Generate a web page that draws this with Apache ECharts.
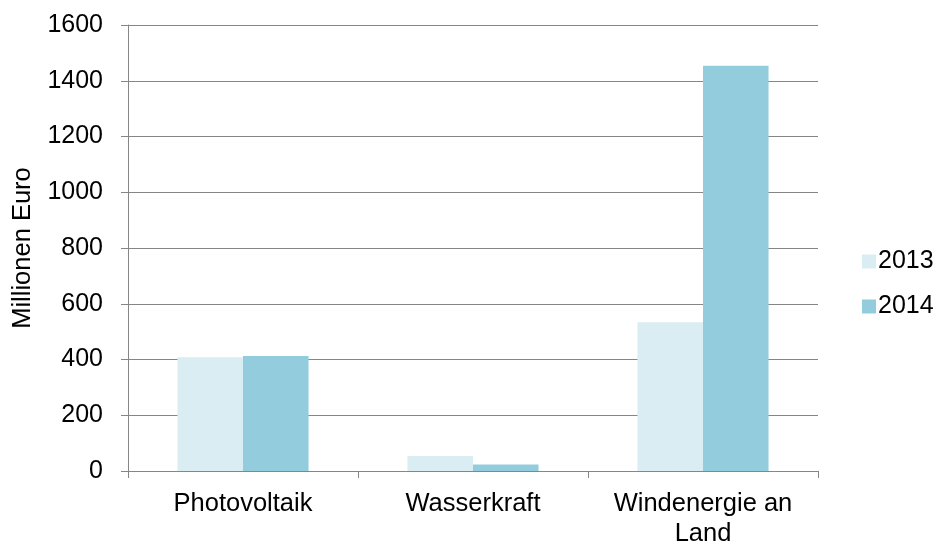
<!DOCTYPE html>
<html><head><meta charset="utf-8">
<script src="https://cdn.jsdelivr.net/npm/echarts@6/dist/echarts.min.js"></script>
<style>html,body{margin:0;padding:0;background:#fff}#c{width:942px;height:541px}</style>
</head><body><div id="c"></div>
<script>
const categories = ['Photovoltaik', 'Wasserkraft', 'Windenergie an\nLand'];
const values2013 = [408, 54, 534];
const values2014 = [413, 23, 1454];
const seriesNames = ['2013', '2014'];
const yTicks = [0, 200, 400, 600, 800, 1000, 1200, 1400, 1600];

const font = 'Liberation Sans, Arial, sans-serif';
const chart = echarts.init(document.getElementById('c'));
chart.setOption({
  animation: false,
  grid: {left: 128, right: 124, top: 25, bottom: 70, containLabel: false, outerBoundsMode: 'none'},
  legend: {
    orient: 'vertical', left: 857, top: 244, itemWidth: 14, itemHeight: 14, itemGap: 20,
    icon: 'rect',
    textStyle: {fontFamily: font, fontSize: 25, color: '#000', padding: [0,0,0,-3]},
    data: seriesNames
  },
  xAxis: {
    type: 'category', data: categories,
    axisLine: {show: true, lineStyle: {color: '#868686', width: 1}},
    axisTick: {show: true, length: 7, lineStyle: {color: '#868686'}},
    axisLabel: {fontFamily: font, fontSize: 25.5, color: '#000', margin: 18, lineHeight: 30, interval: 0, hideOverlap: false}
  },
  yAxis: {
    type: 'value', min: yTicks[0], max: yTicks[yTicks.length-1], interval: 200,
    name: 'Millionen Euro', nameLocation: 'middle', nameGap: 92, nameRotate: 90,
    nameTextStyle: {fontFamily: font, fontSize: 25.5, color: '#000'},
    axisLine: {show: true, lineStyle: {color: '#868686', width: 1}},
    axisTick: {show: true, length: 7, lineStyle: {color: '#868686'}},
    axisLabel: {fontFamily: font, fontSize: 25, color: '#000', margin: 25, formatter: v => String(v)},
    splitLine: {show: true, lineStyle: {color: '#868686', width: 1}}
  },
  series: [
    {name: seriesNames[0], type: 'bar', data: values2013, barGap: '0%', barCategoryGap: '43%',
     itemStyle: {color: '#DAEDF3'}},
    {name: seriesNames[1], type: 'bar', data: values2014, barGap: '0%', barCategoryGap: '43%',
     itemStyle: {color: '#93CDDD'}}
  ]
});
</script></body></html>
